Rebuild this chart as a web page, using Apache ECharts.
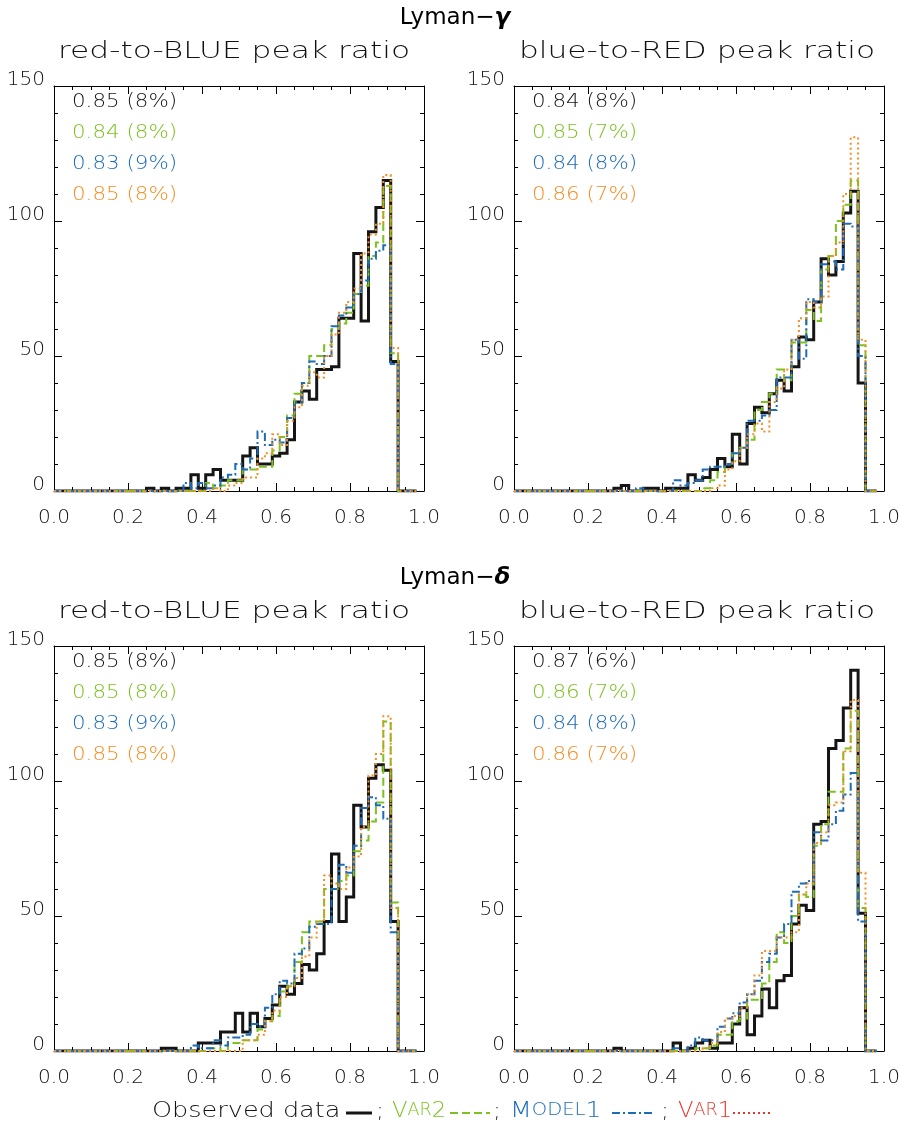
<!DOCTYPE html>
<html><head><meta charset="utf-8">
<script src="https://cdn.jsdelivr.net/npm/echarts@6/dist/echarts.min.js"></script>
<style>html,body{margin:0;padding:0;background:#fff}#c{width:909px;height:1129px}</style>
</head><body><div id="c"></div>
<script>
// ---- bin centres (width 0.02) ----
const binCenters = [0.00,0.02,0.04,0.06,0.08,0.10,0.12,0.14,0.16,0.18,
  0.20,0.22,0.24,0.26,0.28,0.30,0.32,0.34,0.36,0.38,
  0.40,0.42,0.44,0.46,0.48,0.50,0.52,0.54,0.56,0.58,
  0.60,0.62,0.64,0.66,0.68,0.70,0.72,0.74,0.76,0.78,
  0.80,0.82,0.84,0.86,0.88,0.90,0.92,0.94,0.96,0.98];
const xTickLabels = ['0.0','0.2','0.4','0.6','0.8','1.0'];
const yTickLabels = ['0','50','100','150'];

// ---- Lyman-gamma, red-to-BLUE ----
const gR2B_obs = [0,0,0,0,0,0,0,0,0,0, 0,0,0,1,0,1,0,1,1,6, 1,6,8,4,4,4,13,16,10,10, 13,14,19,33,37,34,45,45,46,64, 64,88,63,96,105,115,48,0,0,0];
const gR2B_var2 = [0,0,0,0,0,0,0,0,0,0, 0,0,0,0,0,0,0,0,0,0, 0,3,1,2,4,4,8,8,9,9, 15,20,28,36,40,50,50,54,60,62, 66,73,76,87,92,113,51,0,0,0];
const gR2B_mod1 = [0,0,0,0,0,0,0,0,0,0, 0,0,0,0,0,0,0,0,3,1, 3,1,2,5,6,10,8,12,22,17, 19,18,27,33,40,48,47,50,61,65, 68,73,78,86,89,91,47,0,0,0];
const gR2B_var1 = [0,0,0,0,0,0,0,0,0,0, 0,0,0,0,0,0,0,0,0,0, 0,0,1,0,2,3,5,5,12,14, 21,17,26,31,39,44,42,50,58,66, 70,75,88,95,99,117,53,0,0,0];
// ---- Lyman-gamma, blue-to-RED ----
const gB2R_obs = [0,0,0,0,0,0,0,0,0,0, 0,0,0,0,1,2,0,0,1,1, 0,1,1,1,6,4,5,8,12,9, 21,10,25,31,29,36,41,37,46,57, 56,70,86,80,85,103,111,40,0,0];
const gB2R_var2 = [0,0,0,0,0,0,0,0,0,0, 0,0,0,0,0,0,0,0,0,0, 0,0,0,0,0,0,1,4,7,10, 14,16,19,30,33,36,45,41,55,55, 67,63,82,87,100,106,115,54,0,0];
const gB2R_mod1 = [0,0,0,0,0,0,0,0,0,0, 0,0,0,0,0,0,0,1,0,0, 0,0,4,2,3,4,8,9,9,10, 14,16,26,26,28,30,42,42,56,49, 71,70,84,85,82,99,98,50,0,0];
const gB2R_var1 = [0,0,0,0,0,0,0,0,0,0, 0,0,0,0,0,0,0,0,0,0, 0,0,0,0,0,0,0,1,2,8, 11,16,21,25,22,33,38,45,56,64, 70,68,72,87,92,110,131,56,0,0];
// ---- Lyman-delta, red-to-BLUE ----
const dR2B_obs = [0,0,0,0,0,0,0,0,0,0, 0,0,0,0,0,1,1,0,0,0, 3,3,3,7,7,14,7,14,9,12, 17,24,21,25,32,30,36,48,73,48, 57,91,83,101,106,104,48,0,0,0];
const dR2B_var2 = [0,0,0,0,0,0,0,0,0,0, 0,0,0,0,0,0,0,0,0,0, 0,1,1,0,3,3,4,4,8,11, 13,22,24,33,44,48,48,60,60,63, 65,74,78,85,92,122,55,0,0,0];
const dR2B_mod1 = [0,0,0,0,0,0,0,0,0,0, 0,0,0,0,0,0,0,0,0,2, 1,1,4,2,5,5,6,10,9,16, 21,26,25,36,38,46,47,47,60,69, 66,76,90,94,91,86,44,0,0,0];
const dR2B_var1 = [0,0,0,0,0,0,0,0,0,0, 0,0,0,0,0,0,0,0,0,0, 0,0,0,0,0,0,4,4,6,11, 15,20,24,27,35,42,48,65,62,60, 68,72,83,102,110,124,53,0,0,0];
// ---- Lyman-delta, blue-to-RED ----
const dB2R_obs = [0,0,0,0,0,0,0,0,0,0, 0,0,0,0,1,0,0,0,0,0, 0,0,3,0,1,3,4,1,3,3, 10,16,6,13,23,16,26,28,47,54, 52,84,85,112,115,127,141,51,0,0];
const dB2R_var2 = [0,0,0,0,0,0,0,0,0,0, 0,0,0,0,0,0,0,0,0,0, 0,0,0,0,0,1,1,2,6,6, 11,12,19,19,25,33,44,40,50,58, 57,76,84,96,96,112,126,53,0,0];
const dB2R_mod1 = [0,0,0,0,0,0,0,0,0,0, 0,0,0,0,0,0,0,0,0,0, 0,0,1,0,2,5,4,4,9,12, 14,18,21,26,33,36,42,47,59,62, 63,81,78,84,89,95,103,48,0,0];
const dB2R_var1 = [0,0,0,0,0,0,0,0,0,0, 0,0,0,0,0,0,0,0,0,0, 0,0,0,0,0,0,1,3,7,12, 13,16,21,28,37,37,42,42,44,58, 62,77,81,91,92,111,130,66,0,0];

// ---- texts ----
const mainTitles = ['Lyman\u2212', 'Lyman\u2212'];
const mainGreek = ['\u03B3', '\u03B4'];
const subTitles = ['red-to-BLUE peak ratio', 'blue-to-RED peak ratio'];
const statsTL = ['0.85 (8%)','0.84 (8%)','0.83 (9%)','0.85 (8%)'];
const statsTR = ['0.84 (8%)','0.85 (7%)','0.84 (8%)','0.86 (7%)'];
const statsBL = ['0.85 (8%)','0.85 (8%)','0.83 (9%)','0.85 (8%)'];
const statsBR = ['0.87 (6%)','0.86 (7%)','0.84 (8%)','0.86 (7%)'];
const seriesNames = ['Observed data','Var2','Model1','Var1'];

const FONT = 'DejaVu Sans';
const TXT = '#111';
const COL = ['#151515', '#7cc11f', '#1d6cb8', '#f68c1f'];
const LEGRED = '#e8342a';
const DASH = ['solid', [8,4], [8,3,2,3], [2,3]];
const WID = [3, 2, 2, 2];

const panels = [
  {left:54, top:86, data:[gR2B_obs,gR2B_var2,gR2B_mod1,gR2B_var1], stats:statsTL},
  {left:514, top:86, data:[gB2R_obs,gB2R_var2,gB2R_mod1,gB2R_var1], stats:statsTR},
  {left:54, top:646, data:[dR2B_obs,dR2B_var2,dR2B_mod1,dR2B_var1], stats:statsBL},
  {left:514, top:646, data:[dB2R_obs,dB2R_var2,dB2R_mod1,dB2R_var1], stats:statsBR}
];
const PW = 370, PH = 405;

const grids = [], xAxes = [], yAxes = [], series = [], graphics = [];
const lineCol = {color:'#000', width:1};
panels.forEach((p, g) => {
  grids.push({left:p.left, top:p.top, width:PW, height:PH, containLabel:false});
  [false, true].forEach(top => {
    xAxes.push({type:'value', gridIndex:g, min:0, max:1, interval:0.2, position: top ? 'top' : 'bottom',
      axisLine:{show:true, onZero:false, lineStyle:lineCol},
      axisTick:{show:true, inside:true, length:8, lineStyle:lineCol},
      minorTick:{show:true, splitNumber:4, length:4, lineStyle:lineCol},
      splitLine:{show:false}, minorSplitLine:{show:false},
      axisLabel:{show:!top, margin:17, fontSize:20, color:TXT, fontFamily:FONT, fontWeight:200,
        formatter: v => xTickLabels[Math.round(v / 0.2)]}
    });
  });
  [false, true].forEach(right => {
    yAxes.push({type:'value', gridIndex:g, min:0, max:150, interval:50, position: right ? 'right' : 'left',
      axisLine:{show:true, onZero:false, lineStyle:lineCol},
      axisTick:{show:true, inside:true, length:8, lineStyle:lineCol},
      minorTick:{show:true, splitNumber:5, length:4, lineStyle:lineCol},
      splitLine:{show:false}, minorSplitLine:{show:false},
      axisLabel:{show:!right, margin:9, fontSize:20, color:TXT, fontFamily:FONT, fontWeight:200,
        verticalAlign:'bottom', lineHeight:13, formatter: v => yTickLabels[Math.round(v / 50)]}
    });
  });
  p.data.forEach((arr, k) => {
    series.push({type:'line', name:seriesNames[k], xAxisIndex:2*g, yAxisIndex:2*g,
      step:'middle', symbol:'none', clip:true, z: 2 + k, silent:true, animation:false,
      lineStyle:{color:COL[k], width:WID[k], type:DASH[k], cap:'butt', join:'miter'},
      data: binCenters.map((c, i) => [c, arr[i]])
    });
  });
  p.stats.forEach((s, k) => {
    graphics.push({type:'text', x:p.left + 18, y:p.top + 16 + 31 * k, scaleX:1.07,
      style:{text:s, fill:COL[k], fontSize:20, fontFamily:FONT, fontWeight:200, align:'left', verticalAlign:'middle'}});
  });
});

// titles
[18, 578].forEach((y, r) => {
  graphics.push({type:'text', x:455, y:y,
    style:{text:'{n|' + mainTitles[r] + '}{g|' + mainGreek[r] + '}', align:'center', verticalAlign:'middle',
      rich:{n:{fontSize:23, fontFamily:FONT, fill:'#000', fontWeight:'normal'},
            g:{fontSize:23, fontFamily:FONT, fill:'#000', fontStyle:'italic', fontWeight:'bold'}}}});
  [234, 697].forEach((x, c) => {
    graphics.push({type:'text', x:x, y:y + 34, scaleX:1.36,
      style:{text:subTitles[c], fill:TXT, fontSize:23, fontFamily:FONT, fontWeight:200, align:'center', verticalAlign:'middle'}});
  });
});

// legend (bottom line)
const LY = 1111;
const smallCaps = (big, small, tail, color) => ({
  text:'{b|' + big + '}{s|' + small + '}{b|' + tail + '}',
  rich:{b:{fontSize:22, fontFamily:FONT, fontWeight:200, fill:color}, s:{fontSize:17, fontFamily:FONT, fontWeight:200, fill:color}}
});
graphics.push({type:'text', x:152, y:LY, scaleX:1.16,
  style:{text:seriesNames[0], fill:TXT, fontSize:22, fontFamily:FONT, fontWeight:200, align:'left', verticalAlign:'middle'}});
graphics.push({type:'line', shape:{x1:346, y1:LY+2, x2:372, y2:LY+2}, style:{stroke:COL[0], lineWidth:3}});
[380, 497, 665].forEach(x => graphics.push({type:'text', x:x, y:LY+1,
  style:{text:';', fill:TXT, fontSize:22, fontFamily:FONT, fontWeight:200, align:'center', verticalAlign:'middle'}}));
graphics.push({type:'text', x:392, y:LY, scaleX:1.03, style:Object.assign({align:'left', verticalAlign:'middle'}, smallCaps('V','AR','2',COL[1]))});
graphics.push({type:'line', shape:{x1:450, y1:LY+2, x2:490, y2:LY+2}, style:{stroke:COL[1], lineWidth:2, lineDash:[8,4]}});
graphics.push({type:'text', x:510, y:LY, scaleX:1.15, style:Object.assign({align:'left', verticalAlign:'middle'}, smallCaps('M','ODEL','1',COL[2]))});
graphics.push({type:'line', shape:{x1:612, y1:LY+2, x2:652, y2:LY+2}, style:{stroke:COL[2], lineWidth:2, lineDash:[8,3,2,3]}});
graphics.push({type:'text', x:678, y:LY, scaleX:1.03, style:Object.assign({align:'left', verticalAlign:'middle'}, smallCaps('V','AR','1',LEGRED))});
graphics.push({type:'line', shape:{x1:733, y1:LY+2, x2:770, y2:LY+2}, style:{stroke:LEGRED, lineWidth:2, lineDash:[2,3]}});

const chart = echarts.init(document.getElementById('c'), null, {renderer:'canvas'});
chart.setOption({
  animation:false,
  backgroundColor:'#fff',
  grid:grids, xAxis:xAxes, yAxis:yAxes, series:series, graphic:graphics
});
</script></body></html>
